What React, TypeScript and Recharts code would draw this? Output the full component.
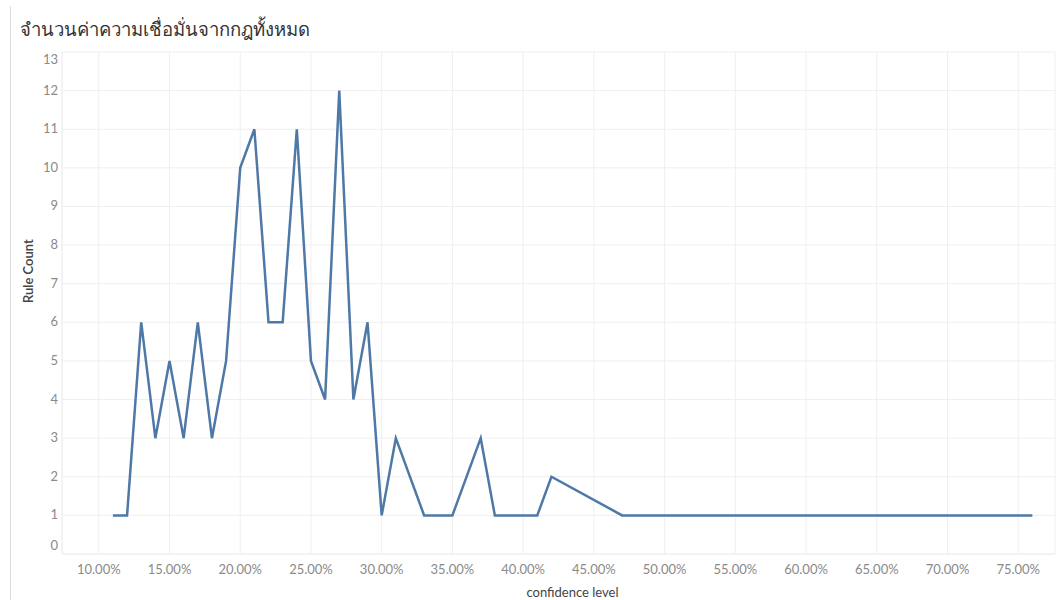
import { LineChart, Line, XAxis, YAxis, CartesianGrid } from "recharts"

const confidence = [11, 12, 13, 14, 15, 16, 17, 18, 19, 20, 21, 22, 23, 24, 25, 26, 27, 28, 29, 30, 31, 33, 35, 37, 38, 41, 42, 47, 76]
const ruleCount = [1, 1, 6, 3, 5, 3, 6, 3, 5, 10, 11, 6, 6, 11, 5, 4, 12, 4, 6, 1, 3, 1, 1, 3, 1, 1, 2, 1, 1]
const xTicks = [10, 15, 20, 25, 30, 35, 40, 45, 50, 55, 60, 65, 70, 75]
const yTicks = [0, 1, 2, 3, 4, 5, 6, 7, 8, 9, 10, 11, 12, 13]

const data = confidence.map((c, i) => ({ confidence: c, count: ruleCount[i] }))

const font = "Lato, 'Noto Sans', sans-serif"

function YTick(props: any) {
  const { x, y, payload } = props
  // end labels are pushed inside the plot, like the original
  let dy = 4
  if (payload.value === 13) dy = 12
  if (payload.value === 0) dy = -4
  return (
    <text x={x} y={y + dy} textAnchor="end" fill="#8a8a8a" fontSize={13} fontFamily={font}>
      {payload.value}
    </text>
  )
}

export default function App() {
  return (
    <div style={{ position: "absolute", left: 0, top: 0, width: 1056, height: 600, background: "#fff" }}>
      <div style={{ position: "absolute", left: 10, top: 6, width: 1, height: 594, background: "#dcdcdc" }} />
      <div
        style={{
          position: "absolute",
          left: 20,
          top: 15,
          fontSize: 18.5,
          color: "#333",
          fontFamily: "'Noto Sans', 'DejaVu Sans', sans-serif",
          whiteSpace: "nowrap",
        }}
      >
        จำนวนค่าความเชื่อมั่นจากกฎทั้งหมด
      </div>
      <LineChart width={1056} height={600} data={data} margin={{ top: 52, right: 1, bottom: 0, left: 12 }}>
        <CartesianGrid stroke="#efefef" strokeWidth={1} />
        <XAxis
          dataKey="confidence"
          type="number"
          domain={[7.4, 77.6]}
          ticks={xTicks}
          tickFormatter={(v: number) => `${v.toFixed(2)}%`}
          axisLine={{ stroke: "#efefef" }}
          tickLine={false}
          tickMargin={5}
          height={46}
          tick={{ fill: "#8a8a8a", fontSize: 13, fontFamily: font }}
          label={{ value: "confidence level", position: "insideBottom", offset: 3, dx: 14, fill: "#444", fontSize: 13, fontFamily: font }}
        />
        <YAxis
          type="number"
          domain={[0, 13]}
          ticks={yTicks}
          width={50}
          axisLine={{ stroke: "#efefef" }}
          tickLine={false}
          tickSize={0}
          tickMargin={4}
          tick={<YTick />}
          label={{ value: "Rule Count", angle: -90, position: "insideLeft", offset: 16, fill: "#444", fontSize: 13, fontWeight: 600, fontFamily: font }}
        />
        <Line
          type="linear"
          dataKey="count"
          stroke="#4e79a7"
          strokeWidth={2.5}
          dot={false}
          activeDot={false}
          isAnimationActive={false}
        />
      </LineChart>
    </div>
  )
}
